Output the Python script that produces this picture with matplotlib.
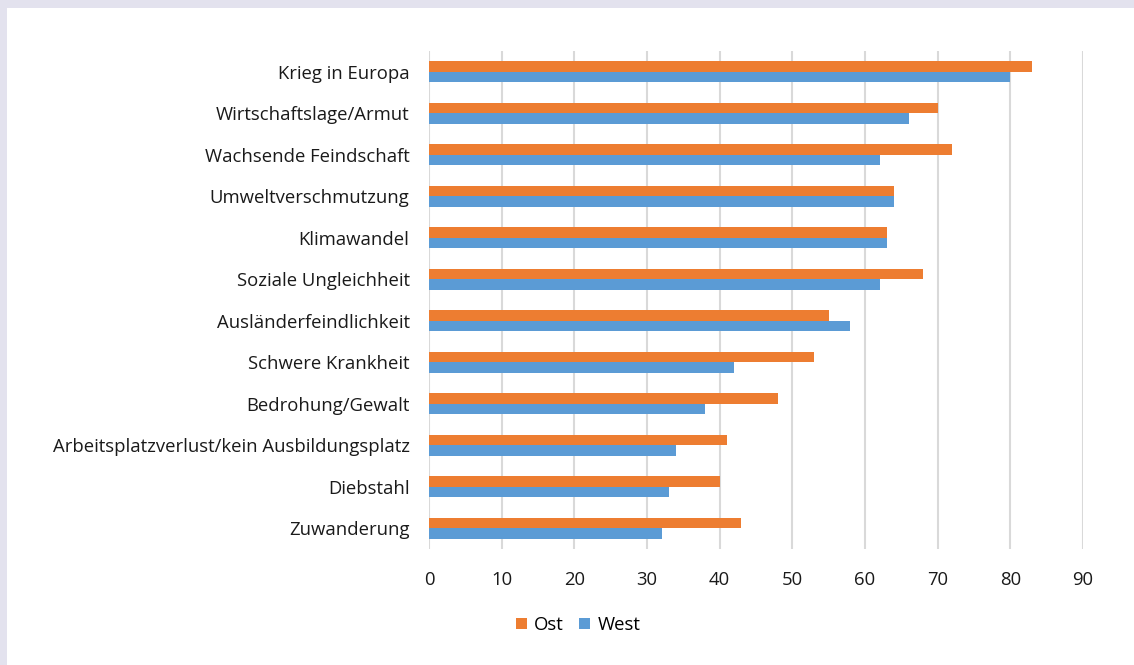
import matplotlib.pyplot as plt
import numpy as np
from matplotlib.patches import Rectangle

categories = ["Krieg in Europa", "Wirtschaftslage/Armut", "Wachsende Feindschaft",
              "Umweltverschmutzung", "Klimawandel", "Soziale Ungleichheit",
              "Ausländerfeindlichkeit", "Schwere Krankheit", "Bedrohung/Gewalt",
              "Arbeitsplatzverlust/kein Ausbildungsplatz", "Diebstahl", "Zuwanderung"]
ost = [83, 70, 72, 64, 63, 68, 55, 53, 48, 41, 40, 43]
west = [80, 66, 62, 64, 63, 62, 58, 42, 38, 34, 33, 32]
xticks = [0, 10, 20, 30, 40, 50, 60, 70, 80, 90]

plt.rcParams['font.family'] = ['Open Sans', 'DejaVu Sans']

W, H = 1134, 665
fig = plt.figure(figsize=(W / 100, H / 100), dpi=100)
fig.patch.set_facecolor('#e3e2ee')
# white panel (lavender strip only on top and left)
fig.patches.append(Rectangle((7 / W, 0), 1, 1 - 8 / H, transform=fig.transFigure,
                             facecolor='white', edgecolor='none', zorder=-5))

ax = fig.add_axes([429 / W, 1 - 549 / H, (1083 - 429) / W, (549 - 51) / H])
ax.set_facecolor('none')

y = np.arange(len(categories))
h = 0.25
ax.barh(y - h / 2, ost, height=h, color='#ED7D31', label='Ost', zorder=3)
ax.barh(y + h / 2, west, height=h, color='#5B9BD5', label='West', zorder=3)

ax.set_ylim(len(categories) - 0.5, -0.5)
ax.set_xlim(0, 90)
ax.set_yticks(y)
ax.set_yticklabels(categories, fontsize=13.3, color='#1a1a1a')
ax.set_xticks(xticks)
ax.set_xticklabels([str(t) for t in xticks], fontsize=13.3, color='#1a1a1a')
ax.tick_params(length=0)
ax.tick_params(axis='y', pad=14)
ax.tick_params(axis='x', pad=16)
ax.grid(axis='x', color='#d9d9d9', linewidth=1.5, zorder=0)
for s in ax.spines.values():
    s.set_visible(False)

fig.legend(loc='center', bbox_to_anchor=(578 / W, 1 - 625 / H), ncol=2, frameon=False,
           fontsize=13.3, handlelength=0.6, handleheight=0.6, handletextpad=0.4,
           columnspacing=0.8)

fig.savefig('out.png', dpi=100, facecolor=fig.get_facecolor())
